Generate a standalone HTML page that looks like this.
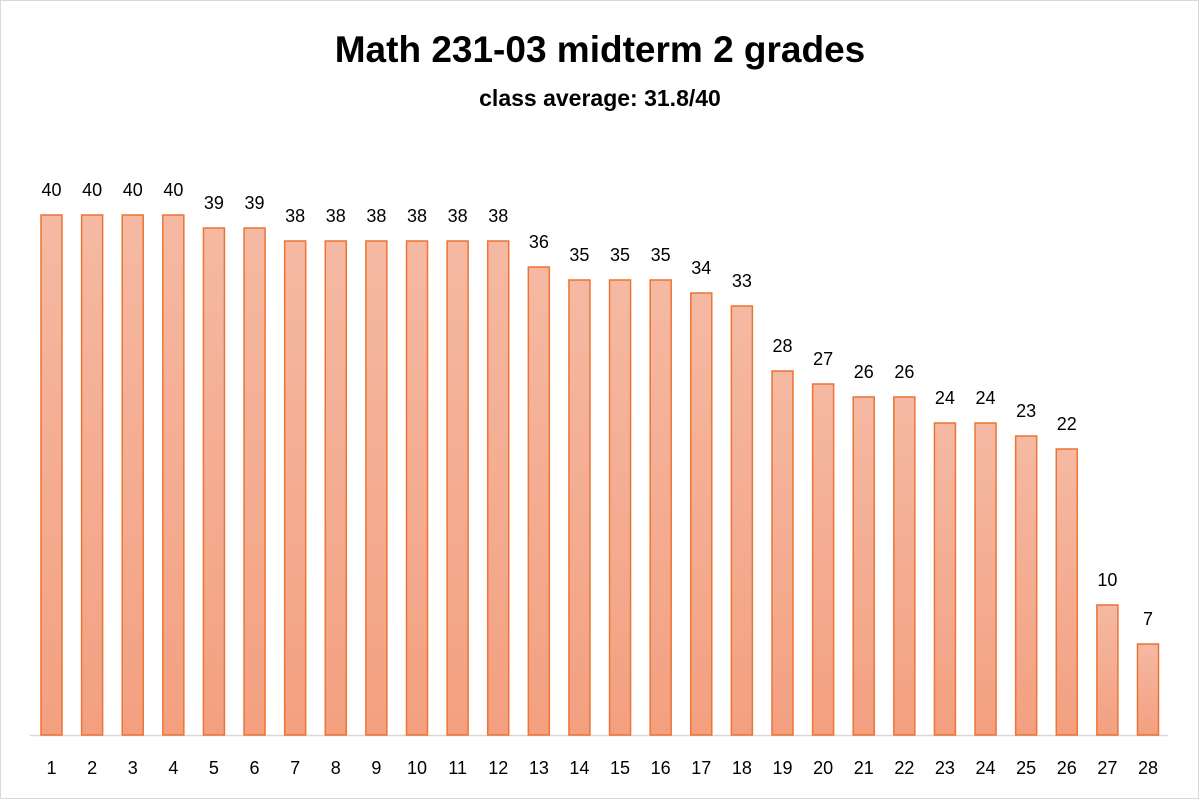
<!DOCTYPE html>
<html><head><meta charset="utf-8"><style>
html,body{margin:0;padding:0;background:#fff;}
svg{display:block;font-family:"Liberation Sans",sans-serif;}
</style></head><body>
<svg width="1200" height="801" viewBox="0 0 1200 801">
<defs><linearGradient id="g" x1="0" y1="0" x2="0" y2="1"><stop offset="0" stop-color="#f5b9a3"/><stop offset="1" stop-color="#f3a080"/></linearGradient></defs>
<rect x="0.5" y="0.5" width="1198" height="798" fill="#fff" stroke="#d9d9d9"/>
<text x="600" y="62" text-anchor="middle" font-size="37" font-weight="bold">Math 231-03 midterm 2 grades</text>
<text x="600" y="106" text-anchor="middle" font-size="23" font-weight="bold">class average: 31.8/40</text>
<line x1="30" y1="735.5" x2="1168" y2="735.5" stroke="#d9d9d9" stroke-width="1.5"/>
<g id="bars"></g>
</svg>
<script>
const categories=["1","2","3","4","5","6","7","8","9","10","11","12","13","14","15","16","17","18","19","20","21","22","23","24","25","26","27","28"];
const grades=[40,40,40,40,39,39,38,38,38,38,38,38,36,35,35,35,34,33,28,27,26,26,24,24,23,22,10,7];
const NS="http://www.w3.org/2000/svg";
const g=document.getElementById('bars');
const x0=51.5,step=(1148-51.5)/27,bw=21,base=735,scale=520/40;
const xs=i=>x0+i*step, ys=v=>base-v*scale;
grades.forEach((v,i)=>{
  const r=document.createElementNS(NS,'rect');
  r.setAttribute('x',xs(i)-bw/2);r.setAttribute('y',ys(v));
  r.setAttribute('width',bw);r.setAttribute('height',base-ys(v));
  r.setAttribute('fill','url(#g)');r.setAttribute('stroke','#ec7434');r.setAttribute('stroke-width','1.5');
  
  
  g.appendChild(r);
  const t=document.createElementNS(NS,'text');
  t.setAttribute('x',xs(i));t.setAttribute('y',ys(v)-19);t.setAttribute('text-anchor','middle');t.setAttribute('font-size','18');
  t.textContent=v;
  
  
  g.appendChild(t);
  const c=document.createElementNS(NS,'text');
  c.setAttribute('x',xs(i));c.setAttribute('y',774);c.setAttribute('text-anchor','middle');c.setAttribute('font-size','18');
  c.textContent=categories[i];
  
  
  g.appendChild(c);
});
</script>
</body></html>
